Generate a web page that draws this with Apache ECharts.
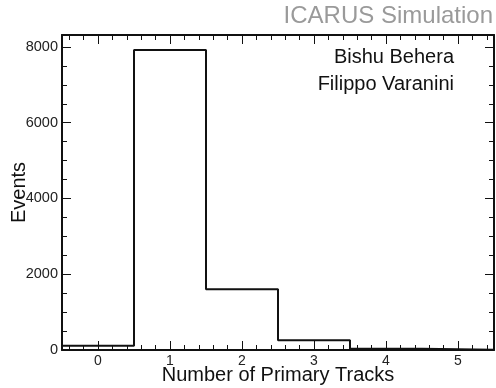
<!DOCTYPE html>
<html>
<head>
<meta charset="utf-8">
<script src="https://cdn.jsdelivr.net/npm/echarts@6/dist/echarts.min.js"></script>
<style>html,body{margin:0;padding:0;background:#fff}#c{width:496px;height:388px}</style>
</head>
<body>
<div id="c"></div>
<script>
// ---- data ----
var binCenters = [0, 1, 2, 3, 4, 5];
var binCounts  = [115, 7920, 1605, 258, 35, 6];
var xTickLabels = [0, 1, 2, 3, 4, 5];
var yTickLabels = [0, 2000, 4000, 6000, 8000];
var binWidth = 1;
var xRange = [-0.5, 5.5];
var yRange = [0, 8316];

// histogram outline points (bin edges)
var pts = [];
for (var i = 0; i < binCenters.length; i++) {
  pts.push([binCenters[i] - binWidth / 2, binCounts[i]]);
}
pts.push([binCenters[binCenters.length - 1] + binWidth / 2, binCounts[binCounts.length - 1]]);

var xMinor = [];
for (var v = -0.4; v < 5.5; v += 0.2) xMinor.push(Math.round(v * 10) / 10);
var yMinor = [];
for (var w = 0; w <= 8000; w += 500) yMinor.push(w);

var FONT = 'Liberation Sans, Arial, sans-serif';
var frame = { show: true, onZero: false, lineStyle: { color: '#111', width: 2 } };
var noLine = { show: false, onZero: false };

function xAx(pos, major, labels) {
  return {
    type: 'value', position: pos, min: xRange[0], max: xRange[1],
    axisLine: major ? frame : noLine,
    axisTick: { show: true, inside: true, length: major ? 9 : 5,
      customValues: major ? xTickLabels : xMinor,
      lineStyle: { color: '#111', width: 1 } },
    axisLabel: labels ? { show: true, customValues: xTickLabels, color: '#222',
      fontSize: 14, fontFamily: FONT, margin: 4,
      formatter: function (val) { return String(val); } } : { show: false },
    splitLine: { show: false }
  };
}
function yAx(pos, major, labels) {
  return {
    type: 'value', position: pos, min: yRange[0], max: yRange[1],
    axisLine: major ? frame : noLine,
    axisTick: { show: true, inside: true, length: major ? 9 : 5,
      customValues: major ? yTickLabels : yMinor,
      lineStyle: { color: '#111', width: 1 } },
    axisLabel: labels ? { show: true, customValues: yTickLabels, color: '#222',
      fontSize: 14.5, fontFamily: FONT, margin: 4,
      formatter: function (val) { return String(val); } } : { show: false },
    splitLine: { show: false }
  };
}

var xAxes = [xAx('bottom', true, true), xAx('bottom', false, false), xAx('top', true, false), xAx('top', false, false)];
xAxes[0].name = 'Number of Primary Tracks';
xAxes[0].nameLocation = 'middle';
xAxes[0].nameGap = 15;
xAxes[0].nameMoveOverlap = false;
xAxes[0].nameTextStyle = { fontSize: 20, fontFamily: FONT, color: '#111', verticalAlign: 'top' };

var yAxes = [yAx('left', true, true), yAx('left', false, false), yAx('right', true, false), yAx('right', false, false)];
yAxes[0].name = 'Events';
yAxes[0].nameLocation = 'middle';
yAxes[0].nameGap = 33;
yAxes[0].nameMoveOverlap = false;
yAxes[0].nameTextStyle = { fontSize: 20, fontFamily: FONT, color: '#111' };

var chart = echarts.init(document.getElementById('c'), null, { renderer: 'canvas' });
chart.setOption({
  animation: false,
  backgroundColor: '#fff',
  title: {
    text: 'ICARUS Simulation', right: 3, top: 4, padding: 0,
    textStyle: { fontSize: 24, fontWeight: 'normal', color: '#9a9a9a', fontFamily: FONT }
  },
  grid: { left: 62, top: 35, width: 432, height: 315, containLabel: false, outerBoundsMode: 'none' },
  xAxis: xAxes,
  yAxis: yAxes,
  graphic: [
    { type: 'text', right: 42, top: 47, style: { text: 'Bishu Behera', fontSize: 20, fontFamily: FONT, fill: '#111' } },
    { type: 'text', right: 42, top: 74, style: { text: 'Filippo Varanini', fontSize: 20, fontFamily: FONT, fill: '#111' } }
  ],
  series: [{
    type: 'line', step: 'end', xAxisIndex: 0, yAxisIndex: 0,
    data: pts, symbol: 'none', clip: true,
    lineStyle: { color: '#111', width: 2 }
  }]
});
</script>
</body>
</html>
